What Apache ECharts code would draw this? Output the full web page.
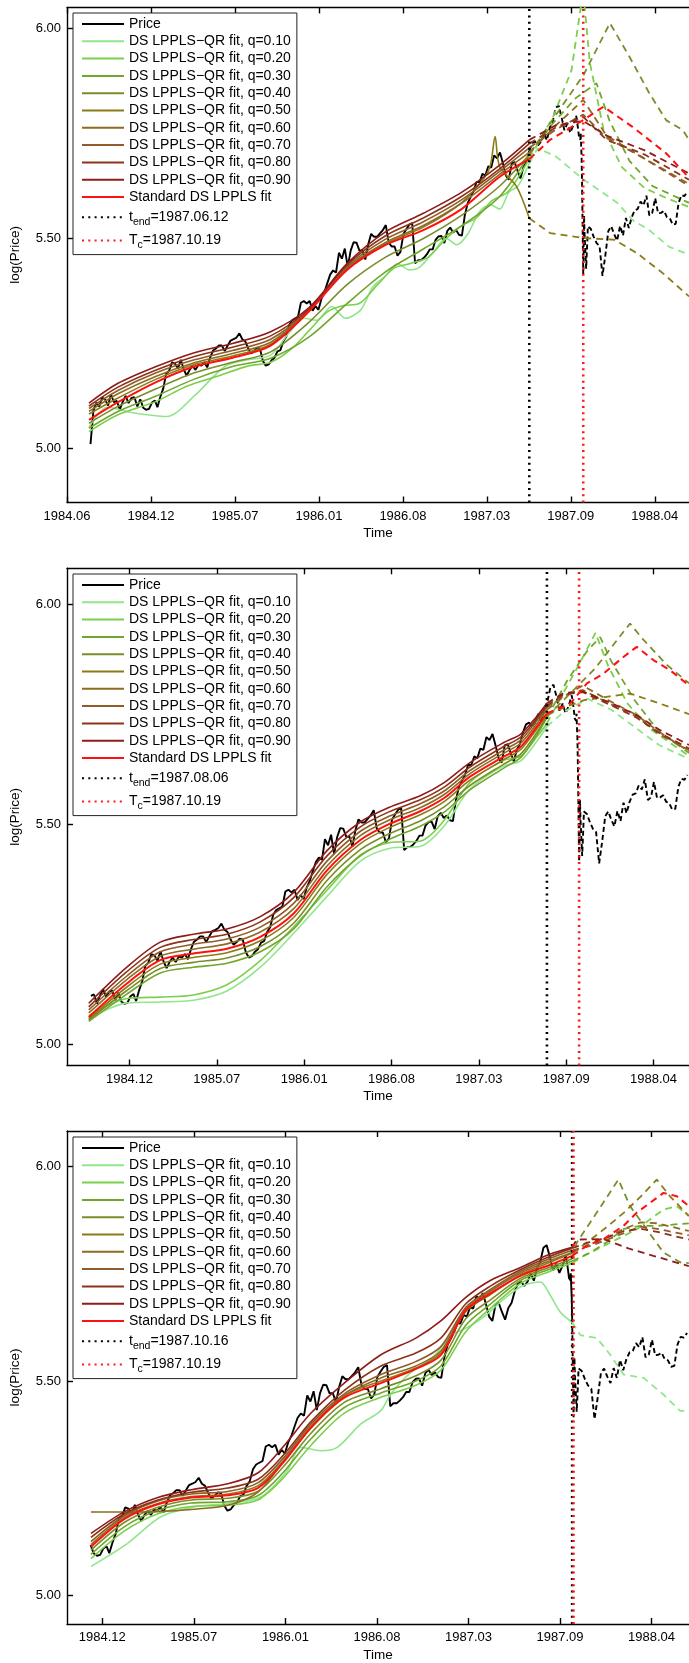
<!DOCTYPE html>
<html><head><meta charset="utf-8">
<script src="https://cdn.jsdelivr.net/npm/echarts/dist/echarts.min.js"></script>
<style>html,body{margin:0;padding:0;background:#fff}#c{width:689px;height:1663px}</style>
</head><body><div id="c"></div>
<script>
// ---------- axis ticks ----------
const TICK_VALUES = [1984.416, 1984.966, 1985.516, 1986.066, 1986.616, 1987.166, 1987.716, 1988.266];
const TICK_LABELS = ['1984.06', '1984.12', '1985.07', '1986.01', '1986.08', '1987.03', '1987.09', '1988.04'];
const Y_TICKS = [5.0, 5.5, 6.0];

// ---------- price (log S&P 500), weekly Fridays from 1984-07-27 ----------
const PRICE_WEEKLY = [
 5.010,5.090,5.109,5.100,5.121,5.116,5.102,5.129,5.110,5.113,5.092,5.111,5.125,5.108,5.120,5.122,5.100,5.117,5.097,5.092,5.094,5.109,5.114,
 5.098,5.123,5.143,5.178,5.185,5.205,5.202,5.190,5.211,5.188,5.173,5.187,5.197,5.187,5.199,5.197,5.205,5.193,5.216,5.233,5.238,5.245,5.245,5.232,5.245,5.257,5.260,5.264,5.274,5.260,5.255,5.238,5.226,5.232,5.240,5.238,5.209,5.197,5.200,5.210,5.216,5.231,5.234,5.255,5.266,5.294,5.305,5.309,5.313,5.347,5.351,5.345,
 5.351,5.328,5.339,5.330,5.356,5.371,5.393,5.414,5.424,5.419,5.466,5.452,5.476,5.432,5.471,5.491,5.490,5.471,5.472,5.450,5.486,5.511,5.504,5.504,5.512,5.520,5.532,5.490,5.481,5.481,5.459,5.468,5.510,5.522,5.533,5.537,5.441,5.448,5.448,5.454,5.462,5.474,5.474,5.497,5.505,5.506,5.489,5.518,5.526,5.514,5.520,5.509,
 5.507,5.556,5.585,5.599,5.613,5.635,5.634,5.654,5.650,5.672,5.669,5.698,5.691,5.705,5.679,5.650,5.640,5.679,5.682,5.661,5.643,5.670,5.682,5.709,5.727,5.731,5.722,5.731,5.751,5.734,5.764,5.778,5.811,5.817,5.790,5.758,5.774,5.752,5.769,5.793,5.740,5.644,5.514,5.529,5.523,5.504,5.489,5.482,5.411,5.461,5.518,5.529,
 5.510,5.495,5.530,5.507,5.549,5.525,5.551,5.567,5.570,5.588,5.579,5.602,5.555,5.561,5.596,5.560,5.561,5.566,5.551,5.548,5.533,5.535,5.585,5.603,5.601,5.612
];
// daily closes around the October 1987 crash (replace the weekly points of that month)
const CRASH_DAYS = [5,6,7,8,9,12,13,14,15,16,19,20,21,22,23,26,27,28,29,30];
const CRASH_VALS = [5.793,5.766,5.763,5.750,5.740,5.735,5.751,5.721,5.697,5.644,5.415,5.467,5.555,5.515,5.514,5.428,5.452,5.452,5.500,5.529];

// ---------- panel 1 fits (t_end 1987.06.12) ----------
const P1_T = [1984.56,1984.75,1985.0,1985.25,1985.5,1985.75,1986.0,1986.25,1986.5,1986.75,1987.0,1987.25,1987.444];
const P1_STD = [5.068,5.110,5.158,5.195,5.216,5.245,5.326,5.425,5.484,5.520,5.570,5.647,5.689];
const P1_Q90 = [5.108,5.155,5.195,5.228,5.250,5.278,5.335,5.440,5.515,5.560,5.610,5.675,5.735];
const P1_Q80 = [5.101,5.146,5.187,5.219,5.241,5.268,5.332,5.437,5.506,5.549,5.600,5.666,5.726];
const P1_Q70 = [5.095,5.138,5.180,5.211,5.233,5.260,5.330,5.433,5.498,5.540,5.592,5.660,5.716];
const P1_Q60 = [5.088,5.130,5.172,5.204,5.226,5.253,5.328,5.430,5.490,5.531,5.584,5.653,5.705];
const P1_Q50 = [[1984.56,5.082],[1984.75,5.120],[1985.0,5.165],[1985.25,5.200],[1985.5,5.220],[1985.75,5.248],[1986.0,5.330],[1986.25,5.428],[1986.5,5.487],[1986.75,5.527],[1987.0,5.585],[1987.15,5.645],[1987.19,5.675],[1987.22,5.743],[1987.25,5.671],[1987.36,5.624],[1987.444,5.548]];
const P1_Q40 = [5.060,5.100,5.142,5.180,5.205,5.230,5.300,5.390,5.455,5.500,5.555,5.625,5.700];
const P1_Q30 = [5.048,5.088,5.125,5.165,5.195,5.215,5.265,5.345,5.420,5.475,5.530,5.600,5.700];
const P1_Q20 = [[1984.56,5.040],[1984.75,5.080],[1985.0,5.112],[1985.2,5.148],[1985.4,5.172],[1985.6,5.196],[1985.75,5.205],[1985.88,5.235],[1986.0,5.280],[1986.12,5.325],[1986.22,5.340],[1986.33,5.345],[1986.45,5.390],[1986.56,5.430],[1986.66,5.440],[1986.78,5.455],[1986.9,5.500],[1987.0,5.530],[1987.1,5.550],[1987.2,5.590],[1987.3,5.610],[1987.37,5.645],[1987.444,5.690]];
const P1_Q10 = [[1984.56,5.050],[1984.68,5.098],[1984.85,5.085],[1985.07,5.076],[1985.25,5.125],[1985.45,5.195],[1985.6,5.211],[1985.75,5.222],[1985.87,5.275],[1985.97,5.310],[1986.05,5.305],[1986.15,5.338],[1986.24,5.310],[1986.34,5.330],[1986.42,5.385],[1986.5,5.410],[1986.58,5.440],[1986.66,5.425],[1986.73,5.433],[1986.82,5.470],[1986.9,5.500],[1986.97,5.485],[1987.04,5.510],[1987.12,5.565],[1987.19,5.580],[1987.25,5.570],[1987.31,5.610],[1987.37,5.625],[1987.444,5.680]];
const P1_Q10D = [[1987.444,5.680],[1987.5,5.715],[1987.62,5.695],[1987.8,5.640],[1987.93,5.608],[1988.02,5.585],[1988.12,5.544],[1988.23,5.520],[1988.36,5.480],[1988.49,5.462]];
const P1_Q20D = [[1987.444,5.690],[1987.6,5.790],[1987.72,5.900],[1987.797,6.090],[1987.84,5.920],[1987.93,5.760],[1988.05,5.670],[1988.2,5.620],[1988.35,5.595],[1988.49,5.575]];
const P1_Q30D = [[1987.444,5.700],[1987.6,5.775],[1987.75,5.835],[1987.884,5.870],[1987.97,5.780],[1988.1,5.685],[1988.25,5.625],[1988.49,5.585]];
const P1_Q40D = [[1987.444,5.700],[1987.6,5.785],[1987.8,5.890],[1987.972,6.013],[1988.1,5.933],[1988.23,5.846],[1988.34,5.782],[1988.45,5.758],[1988.49,5.735]];
const P1_Q50D = [[1987.444,5.548],[1987.58,5.513],[1987.8,5.501],[1988.0,5.497],[1988.15,5.465],[1988.32,5.417],[1988.49,5.362]];
const P1_Q60D = [[1987.444,5.705],[1987.62,5.770],[1987.797,5.830],[1987.95,5.745],[1988.2,5.690],[1988.49,5.630]];
const P1_Q70D = [[1987.444,5.716],[1987.62,5.760],[1987.797,5.795],[1987.95,5.740],[1988.2,5.690],[1988.49,5.625]];
const P1_Q80D = [[1987.444,5.726],[1987.62,5.765],[1987.797,5.790],[1987.95,5.735],[1988.2,5.700],[1988.49,5.640]];
const P1_Q90D = [[1987.444,5.735],[1987.62,5.770],[1987.797,5.780],[1987.95,5.745],[1988.2,5.710],[1988.49,5.655]];
const P1_STDD = [[1987.444,5.689],[1987.58,5.735],[1987.797,5.782],[1987.93,5.814],[1988.12,5.766],[1988.34,5.703],[1988.49,5.645]];

// ---------- panel 2 fits (t_end 1987.08.06) ----------
const P2_T = [1984.71,1984.95,1985.16,1985.37,1985.58,1985.79,1986.0,1986.21,1986.42,1986.6,1986.8,1986.95,1987.11,1987.32,1987.43,1987.53,1987.5945];
const P2_STD = [5.062,5.138,5.191,5.206,5.217,5.244,5.297,5.395,5.464,5.500,5.530,5.560,5.608,5.653,5.676,5.721,5.752];
const P2_Q90 = [5.093,5.175,5.232,5.250,5.262,5.290,5.345,5.440,5.505,5.538,5.565,5.595,5.640,5.685,5.705,5.745,5.775];
const P2_Q80 = [5.085,5.165,5.220,5.238,5.250,5.278,5.333,5.428,5.494,5.528,5.556,5.585,5.630,5.676,5.698,5.740,5.770];
const P2_Q70 = [5.078,5.155,5.210,5.227,5.239,5.266,5.320,5.416,5.484,5.518,5.547,5.576,5.622,5.668,5.691,5.735,5.766];
const P2_Q60 = [5.071,5.147,5.200,5.216,5.228,5.255,5.308,5.405,5.474,5.509,5.538,5.568,5.615,5.661,5.684,5.728,5.760];
const P2_Q50 = [5.058,5.130,5.182,5.197,5.208,5.235,5.288,5.386,5.456,5.492,5.522,5.552,5.600,5.646,5.670,5.716,5.748];
const P2_Q40 = [5.055,5.122,5.172,5.186,5.196,5.222,5.275,5.372,5.442,5.478,5.508,5.540,5.588,5.636,5.660,5.708,5.745];
const P2_Q30 = [5.052,5.114,5.162,5.175,5.184,5.210,5.262,5.358,5.428,5.465,5.496,5.528,5.578,5.627,5.652,5.702,5.742];
const P2_Q20 = [5.065,5.104,5.107,5.112,5.135,5.190,5.267,5.350,5.430,5.458,5.462,5.510,5.595,5.645,5.655,5.698,5.729];
const P2_Q10 = [5.058,5.094,5.096,5.100,5.121,5.175,5.252,5.336,5.416,5.445,5.450,5.497,5.580,5.632,5.644,5.688,5.722];
const P2_Q10D = [[1987.5945,5.722],[1987.7,5.755],[1987.85,5.785],[1988.0,5.760],[1988.15,5.720],[1988.3,5.680],[1988.49,5.648]];
const P2_Q20D = [[1987.5945,5.729],[1987.7,5.800],[1987.8,5.865],[1987.9,5.935],[1987.98,5.860],[1988.1,5.775],[1988.25,5.715],[1988.49,5.655]];
const P2_Q30D = [[1987.5945,5.742],[1987.72,5.825],[1987.85,5.895],[1987.93,5.925],[1988.0,5.870],[1988.15,5.780],[1988.3,5.710],[1988.49,5.662]];
const P2_Q40D = [[1987.5945,5.745],[1987.75,5.800],[1987.9,5.855],[1988.05,5.925],[1988.118,5.956],[1988.2,5.920],[1988.35,5.862],[1988.49,5.820]];
const P2_Q50D = [[1987.5945,5.748],[1987.7,5.765],[1987.83,5.782],[1987.98,5.790],[1988.118,5.797],[1988.3,5.775],[1988.49,5.750]];
const P2_Q60D = [[1987.5945,5.760],[1987.7,5.790],[1987.82,5.815],[1988.0,5.778],[1988.16,5.748],[1988.3,5.710],[1988.49,5.665]];
const P2_Q70D = [[1987.5945,5.766],[1987.7,5.792],[1987.82,5.805],[1988.0,5.772],[1988.16,5.745],[1988.3,5.705],[1988.49,5.668]];
const P2_Q80D = [[1987.5945,5.770],[1987.7,5.795],[1987.82,5.800],[1988.0,5.770],[1988.16,5.742],[1988.3,5.708],[1988.49,5.672]];
const P2_Q90D = [[1987.5945,5.775],[1987.7,5.798],[1987.82,5.802],[1988.0,5.775],[1988.16,5.748],[1988.3,5.715],[1988.49,5.680]];
const P2_STDD = [[1987.5945,5.752],[1987.741,5.774],[1987.846,5.820],[1987.95,5.842],[1988.076,5.880],[1988.16,5.903],[1988.265,5.873],[1988.37,5.850],[1988.49,5.815]];

// ---------- panel 3 fits (t_end 1987.10.16) ----------
const P3_T = [1984.898,1985.1,1985.3,1985.5,1985.72,1985.9,1986.05,1986.22,1986.42,1986.64,1986.85,1987.0,1987.15,1987.3,1987.48,1987.65,1987.789];
const P3_STD = [5.113,5.178,5.212,5.228,5.233,5.250,5.308,5.391,5.461,5.495,5.528,5.560,5.665,5.705,5.746,5.770,5.792];
const P3_Q90 = [5.144,5.195,5.228,5.246,5.260,5.285,5.345,5.425,5.495,5.561,5.600,5.640,5.695,5.735,5.765,5.795,5.812];
const P3_Q80 = [5.135,5.190,5.222,5.240,5.250,5.270,5.325,5.405,5.478,5.535,5.565,5.600,5.680,5.722,5.760,5.790,5.810];
const P3_Q70 = [5.125,5.186,5.220,5.236,5.242,5.262,5.318,5.400,5.470,5.515,5.545,5.580,5.672,5.714,5.756,5.785,5.805];
const P3_Q60 = [5.194,5.194,5.195,5.200,5.210,5.240,5.310,5.390,5.465,5.507,5.535,5.570,5.668,5.710,5.752,5.780,5.800];
const P3_Q50 = [5.118,5.182,5.214,5.230,5.236,5.255,5.312,5.395,5.465,5.500,5.530,5.565,5.662,5.702,5.748,5.776,5.798];
const P3_Q40 = [5.105,5.170,5.205,5.222,5.226,5.242,5.298,5.378,5.450,5.482,5.512,5.548,5.645,5.690,5.740,5.765,5.785];
const P3_Q30 = [5.095,5.160,5.198,5.215,5.218,5.232,5.285,5.365,5.438,5.472,5.500,5.535,5.630,5.680,5.735,5.760,5.780];
const P3_Q20 = [5.085,5.150,5.190,5.207,5.210,5.222,5.272,5.350,5.425,5.462,5.490,5.525,5.615,5.670,5.728,5.755,5.775];
const P3_Q10 = [[1984.898,5.067],[1985.118,5.121],[1985.318,5.183],[1985.518,5.206],[1985.718,5.214],[1985.918,5.229],[1986.078,5.291],[1986.158,5.345],[1986.278,5.337],[1986.378,5.345],[1986.518,5.399],[1986.638,5.430],[1986.70,5.470],[1986.82,5.520],[1986.94,5.550],[1987.06,5.605],[1987.16,5.625],[1987.26,5.650],[1987.36,5.685],[1987.48,5.720],[1987.597,5.731],[1987.657,5.700],[1987.717,5.661],[1987.789,5.637]];
const P3_Q10D = [[1987.789,5.637],[1987.838,5.607],[1987.938,5.600],[1988.018,5.561],[1988.098,5.515],[1988.218,5.507],[1988.338,5.468],[1988.438,5.430],[1988.49,5.430]];
const P3_Q20D = [[1987.789,5.775],[1987.85,5.790],[1987.977,5.815],[1988.177,5.854],[1988.337,5.900],[1988.417,5.908],[1988.49,5.885]];
const P3_Q30D = [[1987.789,5.780],[1987.9,5.800],[1988.0,5.825],[1988.1,5.855],[1988.2,5.862],[1988.3,5.862],[1988.49,5.868]];
const P3_Q40D = [[1987.789,5.785],[1987.817,5.823],[1987.937,5.893],[1988.067,5.970],[1988.137,5.908],[1988.237,5.854],[1988.337,5.800],[1988.437,5.777],[1988.49,5.775]];
const P3_Q50D = [[1987.789,5.798],[1987.9,5.830],[1988.0,5.860],[1988.1,5.893],[1988.2,5.930],[1988.297,5.970],[1988.377,5.931],[1988.49,5.885]];
const P3_Q60D = [[1987.789,5.800],[1987.9,5.820],[1987.977,5.831],[1988.1,5.855],[1988.2,5.870],[1988.3,5.868],[1988.49,5.850]];
const P3_Q70D = [[1987.789,5.805],[1987.9,5.815],[1988.0,5.830],[1988.1,5.845],[1988.2,5.860],[1988.3,5.855],[1988.49,5.840]];
const P3_Q80D = [[1987.789,5.810],[1987.9,5.825],[1988.0,5.835],[1988.1,5.850],[1988.2,5.855],[1988.3,5.848],[1988.49,5.830]];
const P3_Q90D = [[1987.789,5.812],[1987.817,5.830],[1987.977,5.831],[1988.137,5.808],[1988.277,5.792],[1988.49,5.768]];
const P3_STDD = [[1987.789,5.792],[1987.878,5.816],[1987.978,5.831],[1988.098,5.862],[1988.178,5.893],[1988.338,5.939],[1988.418,5.931],[1988.49,5.908]];

// ---------- names, colours ----------
const FIT_NAMES = ['0.10','0.20','0.30','0.40','0.50','0.60','0.70','0.80','0.90'].map(q => 'DS LPPLS\u2212QR fit, q=' + q);
const FIT_COLORS = ['#90e68a','#7ccf4c','#70a62c','#7b8d2a','#8b7b16','#8d6b22','#915b2b','#8b3418','#8d1c1a'];
const STD_NAME = 'Standard DS LPPLS fit';
const STD_COLOR = '#ff1010';
const TEND_DATES = [[1987,6,12],[1987,8,6],[1987,10,16]];
const TEND_LABELS = ['1987.06.12','1987.08.06','1987.10.16'];
const TC_DATE = [1987,10,19];
const TC_LABEL = '1987.10.19';
const PRICE_START = [1984.56, 1984.71, 1984.89];

// ---------- layout ----------
const FONT = 'Liberation Sans, Arial, sans-serif';
const LAYOUT = [
  {top: 7.4,  bottom: 502.5, xMin: 1984.416, xMax: 1988.490, yMin: 4.8711, yMax: 6.0505, legendTop: 13},
  {top: 568.3, bottom: 1065.5, xMin: 1984.573, xMax: 1988.489, yMin: 4.9516, yMax: 6.0816, legendTop: 574},
  {top: 1131, bottom: 1627.7, xMin: 1984.754, xMax: 1988.491, yMin: 4.9326, yMax: 6.0834, legendTop: 1137}
];

function yearFrac(ms) { const y = new Date(ms).getUTCFullYear(); return y + (ms - Date.UTC(y, 0, 1)) / 86400000 / 365; }
function dateFrac(d) { return yearFrac(Date.UTC(d[0], d[1] - 1, d[2])); }
function zip(T, V) { return Array.isArray(V[0]) ? V : V.map((v, i) => [T[i], v]); }

// build price
const priceAll = [];
const W0 = Date.UTC(1984, 6, 27);
const crashFrom = dateFrac([1987,10,3]), crashTo = dateFrac([1987,10,31]);
PRICE_WEEKLY.forEach((v, i) => { const t = yearFrac(W0 + i * 7 * 86400000); if (t < crashFrom || t > crashTo) priceAll.push([t, v]); });
CRASH_DAYS.forEach((d, i) => priceAll.push([dateFrac([1987,10,d]), CRASH_VALS[i]]));
priceAll.sort((a, b) => a[0] - b[0]);

const PANEL_FITS = [
  {T: P1_T, fits: [P1_Q10,P1_Q20,P1_Q30,P1_Q40,P1_Q50,P1_Q60,P1_Q70,P1_Q80,P1_Q90], dash: [P1_Q10D,P1_Q20D,P1_Q30D,P1_Q40D,P1_Q50D,P1_Q60D,P1_Q70D,P1_Q80D,P1_Q90D], std: P1_STD, stdD: P1_STDD},
  {T: P2_T, fits: [P2_Q10,P2_Q20,P2_Q30,P2_Q40,P2_Q50,P2_Q60,P2_Q70,P2_Q80,P2_Q90], dash: [P2_Q10D,P2_Q20D,P2_Q30D,P2_Q40D,P2_Q50D,P2_Q60D,P2_Q70D,P2_Q80D,P2_Q90D], std: P2_STD, stdD: P2_STDD},
  {T: P3_T, fits: [P3_Q10,P3_Q20,P3_Q30,P3_Q40,P3_Q50,P3_Q60,P3_Q70,P3_Q80,P3_Q90], dash: [P3_Q10D,P3_Q20D,P3_Q30D,P3_Q40D,P3_Q50D,P3_Q60D,P3_Q70D,P3_Q80D,P3_Q90D], std: P3_STD, stdD: P3_STDD}
];

function ln(name, p, data, color, width, type, smooth) {
  return {type: 'line', name, xAxisIndex: 2 * p, yAxisIndex: p, data, symbol: 'none', smooth: smooth || false,
    lineStyle: {color, width, type: type || 'solid'}, itemStyle: {color}, silent: true, animation: false, clip: true};
}

const series = [], grids = [], xAxes = [], yAxes = [], legends = [];
const AX = {color: '#000', width: 1.4};
LAYOUT.forEach((L, p) => {
  const tend = dateFrac(TEND_DATES[p]), tc = dateFrac(TC_DATE);
  const tendName = 't_end=' + TEND_LABELS[p], tcName = 'T_c=' + TC_LABEL;
  grids.push({left: 66, right: 0, top: L.top, height: L.bottom - L.top});
  const ticks = TICK_VALUES.filter(v => v >= L.xMin - 1e-6 && v <= L.xMax);
  const base = {type: 'value', gridIndex: p, min: L.xMin, max: L.xMax, splitLine: {show: false},
    axisLine: {show: true, onZero: false, lineStyle: AX},
    axisTick: {show: true, inside: true, length: 6, customValues: ticks, lineStyle: AX}};
  xAxes.push(Object.assign({}, base, {position: 'bottom',
    axisLabel: {show: true, customValues: ticks, color: '#000', fontSize: 13, fontFamily: FONT, margin: 7,
      formatter: v => { const i = TICK_VALUES.findIndex(t => Math.abs(t - v) < 1e-6); return i >= 0 ? TICK_LABELS[i] : ''; }},
    name: 'Time', nameLocation: 'middle', nameGap: 24, nameTextStyle: {color: '#000', fontSize: 13.5, fontFamily: FONT}}));
  xAxes.push(Object.assign({}, base, {position: 'top', axisLabel: {show: false}}));
  yAxes.push({type: 'value', gridIndex: p, min: L.yMin, max: L.yMax, splitLine: {show: false},
    axisLine: {show: true, onZero: false, lineStyle: AX},
    axisTick: {show: true, inside: true, length: 6, customValues: Y_TICKS, lineStyle: AX},
    axisLabel: {show: true, customValues: Y_TICKS, formatter: v => v.toFixed(2), color: '#000', fontSize: 13, fontFamily: FONT, margin: 6},
    name: 'log(Price)', nameLocation: 'middle', nameGap: 45, nameTextStyle: {color: '#000', fontSize: 13.5, fontFamily: FONT}});

  // price
  const start = PRICE_START[p];
  const solid = priceAll.filter(d => d[0] >= start && d[0] <= tend + 1e-9);
  const lastT = solid[solid.length - 1][0];
  const dashed = priceAll.filter(d => d[0] >= lastT);
  series.push(ln('Price', p, solid, '#000', 1.9));
  series.push(ln('Price ext' + p, p, dashed, '#000', 1.9, [5, 3]));
  // fits
  const F = PANEL_FITS[p];
  F.fits.forEach((f, i) => {
    series.push(ln(FIT_NAMES[i], p, zip(F.T, f), FIT_COLORS[i], 1.6, 'solid', 0.3));
    series.push(ln(FIT_NAMES[i] + ' ext' + p, p, F.dash[i], FIT_COLORS[i], 1.8, [7, 5]));
  });
  series.push(ln(STD_NAME, p, zip(F.T, F.std), STD_COLOR, 2, 'solid', 0.3));
  series.push(ln(STD_NAME + ' ext' + p, p, F.stdD, STD_COLOR, 2, [7, 5]));
  // vertical lines
  series.push(ln(tendName, p, [[tend, L.yMin], [tend, L.yMax]], '#000', 2.6, [2, 4.3]));
  series.push(ln(tcName, p, [[tc, L.yMin], [tc, L.yMax]], '#ff1a1a', 2.6, [2, 4.3]));

  legends.push({orient: 'vertical', left: 73, top: L.legendTop, itemWidth: 42, itemHeight: 14, itemGap: 3.3,
    padding: [4, 6, 4, 8], backgroundColor: '#fff', borderColor: '#222', borderWidth: 1, borderRadius: 0,
    selectedMode: false,
    itemStyle: {opacity: 0, borderWidth: 0},
    data: ['Price'].concat(FIT_NAMES, [STD_NAME, tendName, tcName]),
    textStyle: {color: '#000', fontSize: 14, lineHeight: 14, fontFamily: FONT,
      rich: {n: {fontSize: 14, lineHeight: 14, fontFamily: FONT, color: '#000'},
             s: {fontSize: 10.5, lineHeight: 10, fontFamily: FONT, color: '#000', padding: [9, 0, 0, 0]}}},
    formatter: name => {
      if (name.indexOf('t_end') === 0) return '{n|t}{s|end}{n|' + name.slice(5) + '}';
      if (name.indexOf('T_c') === 0) return '{n|T}{s|c}{n|' + name.slice(3) + '}';
      return name;
    }});
});

const chart = echarts.init(document.getElementById('c'), null, {renderer: 'canvas'});
chart.setOption({animation: false, textStyle: {fontFamily: FONT}, grid: grids, xAxis: xAxes, yAxis: yAxes, legend: legends, series});
</script></body></html>
